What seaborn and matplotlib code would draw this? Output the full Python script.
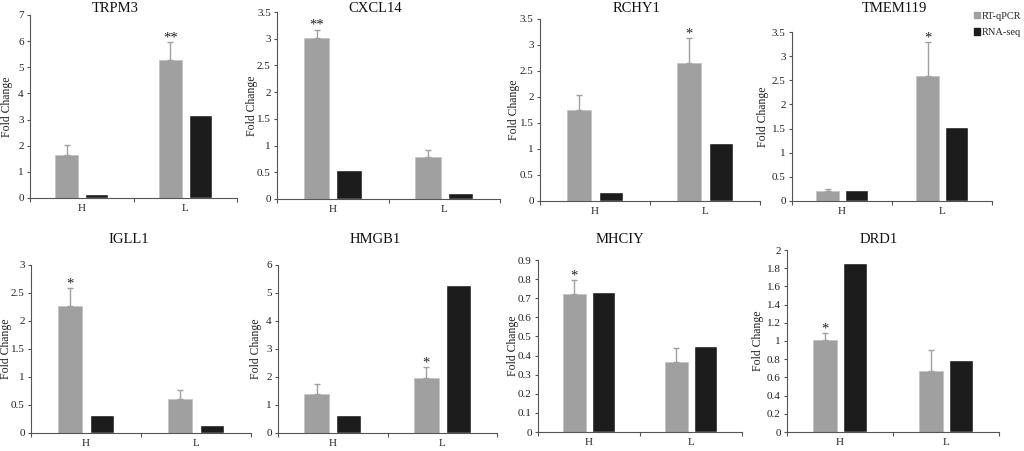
import numpy as np
import pandas as pd
import matplotlib
matplotlib.use('Agg')
import matplotlib.pyplot as plt
from matplotlib.patches import Patch
import seaborn as sns

# data
genes = ['TRPM3', 'CXCL14', 'RCHY1', 'TMEM119', 'IGLL1', 'HMGB1', 'MHCIY', 'DRD1']
groups = ['H', 'L']
methods = ['RT-qPCR', 'RNA-seq']

qpcr_h = [1.64, 3.01, 1.75, 0.21, 2.26, 1.40, 0.72, 1.01]
qpcr_l = [5.26, 0.78, 2.65, 2.58, 0.60, 1.97, 0.365, 0.67]
qpcr_err_h = [0.37, 0.16, 0.28, 0.04, 0.33, 0.36, 0.075, 0.08]
qpcr_err_l = [0.70, 0.14, 0.48, 0.71, 0.16, 0.38, 0.075, 0.23]
rnaseq_h = [0.15, 0.54, 0.17, 0.23, 0.32, 0.66, 0.73, 1.86]
rnaseq_l = [3.17, 0.12, 1.11, 1.53, 0.15, 5.27, 0.45, 0.79]
stars_h = ['', '**', '', '', '*', '', '*', '*']
stars_l = ['**', '', '*', '*', '', '*', '', '']

ymax = [7, 3.5, 3.5, 3.5, 3, 6, 0.9, 2]
ystep = [1, 0.5, 0.5, 0.5, 0.5, 1, 0.1, 0.2]

gray = '#a0a0a0'
black = '#1c1c1c'

sns.set_style('ticks')
plt.rcParams['font.family'] = ['Liberation Serif', 'DejaVu Serif']

W, H = 1024, 451
fig = plt.figure(figsize=(W / 100, H / 100), dpi=100)

# axes boxes in pixels: left, right, top (ymax), bottom (zero)
boxes = [(30, 237, 15, 198), (277, 500, 12, 199), (540, 760, 19, 201), (792, 992, 32, 201),
         (31, 251, 265, 433), (278, 497, 265, 433), (538, 742, 260, 432), (787, 999, 250, 432)]
title_pos = [(115, 9), (375, 9), (637, 9), (894, 9),
             (129, 240), (375, 240), (620, 240), (879, 240)]
label_off = [17, 19, 20, 23, 19, 16, 19, 23]

for i, gene in enumerate(genes):
    l, r, t, b = boxes[i]
    ax = fig.add_axes([l / W, 1 - b / H, (r - l) / W, (b - t) / H])

    df = pd.DataFrame({
        'group': groups * 2,
        'method': [methods[0]] * 2 + [methods[1]] * 2,
        'value': [qpcr_h[i], qpcr_l[i], rnaseq_h[i], rnaseq_l[i]],
    })
    sns.barplot(data=df, x='group', y='value', hue='method', hue_order=methods,
                palette=[gray, black], width=0.58, gap=0.22, errorbar=None,
                legend=False, ax=ax, saturation=1)
    for p in ax.containers[0]:
        p.set_edgecolor('#c4c4c4')
        p.set_linewidth(0.6)

    # upper error bars on the RT-qPCR bars
    bars = ax.containers[0]
    xs = [p.get_x() + p.get_width() / 2 for p in bars]
    ys = [qpcr_h[i], qpcr_l[i]]
    errs = [qpcr_err_h[i], qpcr_err_l[i]]
    ax.errorbar(xs, ys, yerr=[[0, 0], errs], fmt='none', ecolor=gray,
                elinewidth=1, capsize=2.2, capthick=1)
    for x, y, e, s in zip(xs, ys, errs, [stars_h[i], stars_l[i]]):
        if s:
            ax.annotate(s, (x, y + e), xytext=(0, 0.5), textcoords='offset points',
                        ha='center', va='baseline', fontsize=10.5, color='#222222')

    ax.set_xlim(-0.5, 1.5)
    ax.set_ylim(0, ymax[i])
    ticks = np.arange(0, ymax[i] + ystep[i] / 2, ystep[i])
    ax.set_yticks(ticks)
    ax.set_yticklabels([f'{v:g}' for v in ticks])
    ax.set_xticks([0, 1])
    ax.set_xticklabels(groups)
    ax.set_xticks([-0.5, 0.5, 1.5], minor=True)
    ax.tick_params(axis='x', which='major', length=0, labelsize=8, pad=4.5, colors='#222222')
    ax.tick_params(axis='x', which='minor', length=3, width=0.8, color='#555555', direction='out')
    ax.tick_params(axis='y', length=2.5, width=0.8, color='#555555', labelsize=8,
                   pad=2, labelcolor='#222222')
    ax.set_xlabel('')
    ax.set_ylabel('Fold Change', fontsize=8.5, color='#222222')
    ax.yaxis.set_label_coords(-label_off[i] / (r - l), 0.5)
    sns.despine(ax=ax)
    for side in ['left', 'bottom']:
        ax.spines[side].set_color('#555555')
        ax.spines[side].set_linewidth(0.8)

    tx, ty = title_pos[i]
    fig.text(tx / W, 1 - ty / H, gene, ha='center', va='center', fontsize=10.5, color='#111111')

fig.legend(handles=[Patch(color=gray, label=methods[0]), Patch(color=black, label=methods[1])],
           loc='upper right', bbox_to_anchor=(1.003, 0.985), frameon=False, fontsize=7.5,
           handlelength=0.55, handleheight=0.55, handletextpad=0.25, labelspacing=0.7,
           borderaxespad=0.1)

fig.savefig('out.png', dpi=100)
